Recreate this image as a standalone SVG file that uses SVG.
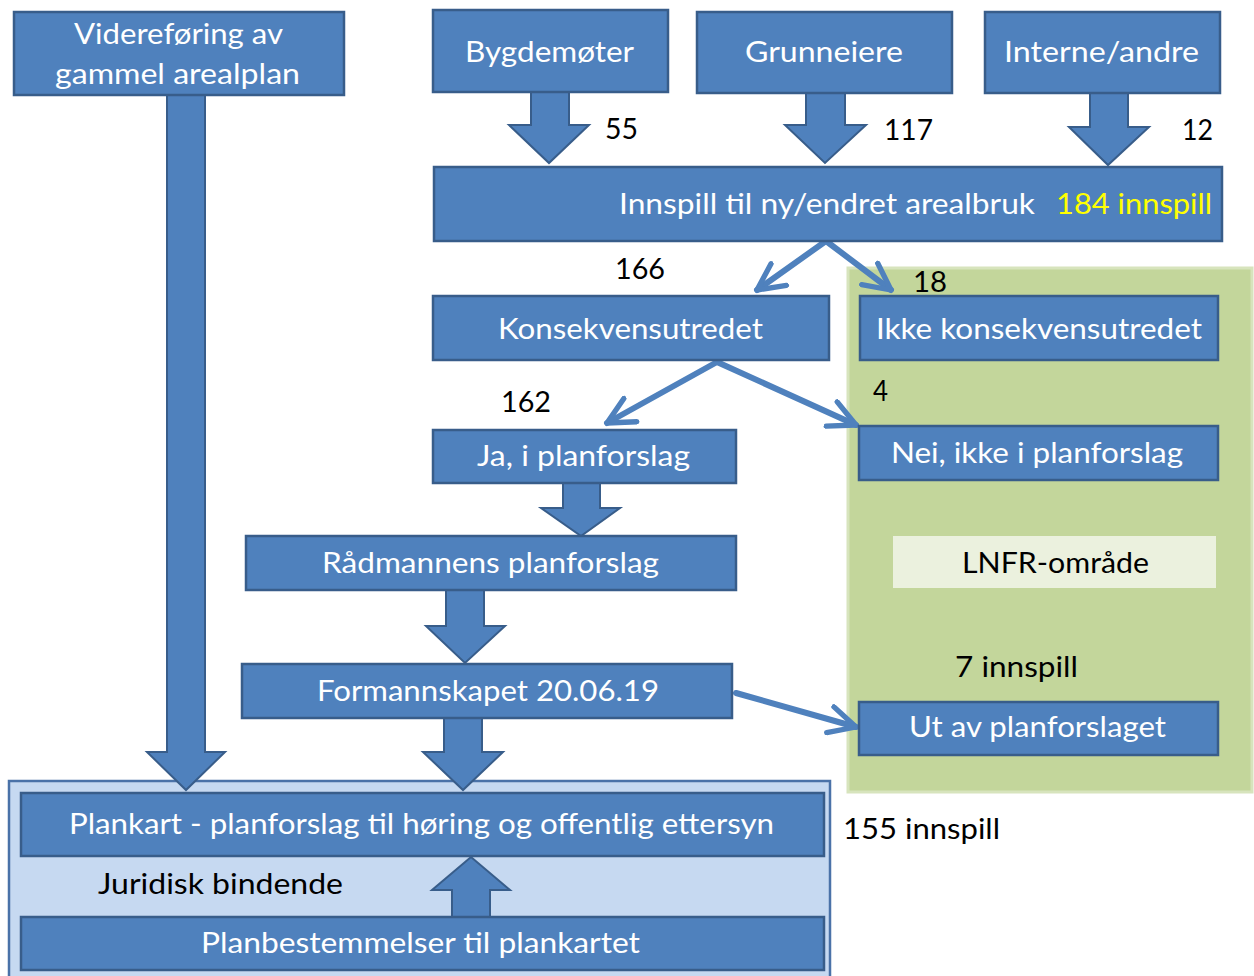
<svg xmlns="http://www.w3.org/2000/svg" width="1254" height="976" viewBox="0 0 1254 976">
<style>
.box{fill:#4F81BD;stroke:#385D8A;stroke-width:2.5}
.barrow{fill:#4F81BD;stroke:#385D8A;stroke-width:2}
.t{font-family:Lato,"Open Sans","Liberation Sans",sans-serif;font-size:28px;fill:#FFFFFF}
.k{font-family:Lato,"Open Sans","Liberation Sans",sans-serif;font-size:28px;fill:#000000}
.y{fill:#FFFF00}
.line{stroke:#4F81BD;stroke-width:6;fill:none;stroke-linecap:round}
</style>
<defs>
<marker id="vh" viewBox="0 0 12 12" refX="11" refY="6" markerWidth="32" markerHeight="32" markerUnits="userSpaceOnUse" orient="auto">
<path d="M1,1 L11,6 L1,11" fill="none" stroke="#4F81BD" stroke-width="2" stroke-linecap="round" stroke-linejoin="round"/>
</marker>
</defs>
<rect width="1254" height="976" fill="#FFFFFF"/>

<g id="lnfr-area"><rect x="848" y="268" width="404" height="524" fill="#C3D69B" stroke="#D7E4BD" stroke-width="3"/></g>
<g id="juridisk-area"><rect x="9" y="781" width="821" height="200" fill="#C6D9F1" stroke="#4A72A8" stroke-width="2.5"/></g>

<g id="connectors">
<path class="barrow" d="M167,95 H205 V752 H225 L186,790 L147,752 H167 Z"/>
<path class="barrow" d="M531,92 H569 V125 H589 L549,163 L509,125 H531 Z"/>
<path class="barrow" d="M806,93 H845 V125 H866 L825,163 L785,125 H806 Z"/>
<path class="barrow" d="M1090,93 H1128 V127 H1149 L1108,165 L1069,127 H1090 Z"/>
<path class="barrow" d="M563,483 H600 V508 H620 L581,536 L541,508 H563 Z"/>
<path class="barrow" d="M446,590 H484 V626 H505 L465,663 L426,626 H446 Z"/>
<path class="barrow" d="M444,718 H482 V752 H503 L463,790 L423,752 H444 Z"/>
<path class="barrow" d="M452,917 H490 V890 H510 L471,857 L432,890 H452 Z"/>
<line class="line" x1="826" y1="241" x2="757" y2="290" marker-end="url(#vh)"/>
<line class="line" x1="826" y1="241" x2="891" y2="290" marker-end="url(#vh)"/>
<line class="line" x1="717" y1="362" x2="607" y2="423" marker-end="url(#vh)"/>
<line class="line" x1="717" y1="362" x2="856" y2="425" marker-end="url(#vh)"/>
<line class="line" x1="736" y1="693" x2="856" y2="727" marker-end="url(#vh)"/>
</g>

<g id="videreforing"><rect class="box" x="14" y="12" width="330" height="83"/>
<text class="t" x="74" y="44" textLength="209" lengthAdjust="spacingAndGlyphs">Videreføring av</text>
<text class="t" x="55" y="84" textLength="245" lengthAdjust="spacingAndGlyphs">gammel arealplan</text></g>

<g id="bygdemoter"><rect class="box" x="433" y="10" width="235" height="82"/>
<text class="t" x="465" y="62" textLength="169" lengthAdjust="spacingAndGlyphs">Bygdemøter</text></g>

<g id="grunneiere"><rect class="box" x="697" y="12" width="255" height="81"/>
<text class="t" x="745" y="62" textLength="158" lengthAdjust="spacingAndGlyphs">Grunneiere</text></g>

<g id="interne"><rect class="box" x="985" y="12" width="235" height="81"/>
<text class="t" x="1004" y="62" textLength="195" lengthAdjust="spacingAndGlyphs">Interne/andre</text></g>

<g id="lbl-55"><text class="k" x="605" y="139" textLength="33" lengthAdjust="spacingAndGlyphs">55</text></g>
<g id="lbl-117"><text class="k" x="884" y="140" textLength="49" lengthAdjust="spacingAndGlyphs">117</text></g>
<g id="lbl-12"><text class="k" x="1182" y="140" textLength="31" lengthAdjust="spacingAndGlyphs">12</text></g>

<g id="innspill"><rect class="box" x="434" y="167" width="788" height="74"/>
<text class="t" x="619" y="214" textLength="416" lengthAdjust="spacingAndGlyphs">Innspill til ny/endret arealbruk</text>
<text class="t y" x="1056" y="214" textLength="156" lengthAdjust="spacingAndGlyphs">184 innspill</text></g>

<g id="lbl-166"><text class="k" x="615" y="279" textLength="50" lengthAdjust="spacingAndGlyphs">166</text></g>
<g id="lbl-18"><text class="k" x="913" y="292" textLength="34" lengthAdjust="spacingAndGlyphs">18</text></g>

<g id="konsekvens"><rect class="box" x="433" y="296" width="396" height="64"/>
<text class="t" x="498" y="339" textLength="265" lengthAdjust="spacingAndGlyphs">Konsekvensutredet</text></g>

<g id="ikke-konsekvens"><rect class="box" x="860" y="296" width="358" height="64"/>
<text class="t" x="876" y="339" textLength="326" lengthAdjust="spacingAndGlyphs">Ikke konsekvensutredet</text></g>

<g id="lbl-162"><text class="k" x="501" y="412" textLength="50" lengthAdjust="spacingAndGlyphs">162</text></g>
<g id="lbl-4"><text class="k" x="873" y="401" textLength="15" lengthAdjust="spacingAndGlyphs">4</text></g>

<g id="ja"><rect class="box" x="433" y="430" width="303" height="53"/>
<text class="t" x="477" y="466" textLength="213" lengthAdjust="spacingAndGlyphs">Ja, i planforslag</text></g>

<g id="nei"><rect class="box" x="859" y="426" width="359" height="54"/>
<text class="t" x="891" y="463" textLength="292" lengthAdjust="spacingAndGlyphs">Nei, ikke i planforslag</text></g>

<g id="radmann"><rect class="box" x="246" y="536" width="490" height="54"/>
<text class="t" x="322" y="573" textLength="337" lengthAdjust="spacingAndGlyphs">Rådmannens planforslag</text></g>

<g id="lnfr"><rect x="893" y="536" width="323" height="52" fill="#EBF1DE"/>
<text class="k" x="962" y="573" textLength="187" lengthAdjust="spacingAndGlyphs">LNFR-område</text></g>

<g id="lbl-7"><text class="k" x="955" y="677" textLength="123" lengthAdjust="spacingAndGlyphs">7 innspill</text></g>

<g id="formannskapet"><rect class="box" x="242" y="664" width="490" height="54"/>
<text class="t" x="317" y="701" textLength="342" lengthAdjust="spacingAndGlyphs">Formannskapet 20.06.19</text></g>

<g id="ut"><rect class="box" x="859" y="702" width="359" height="53"/>
<text class="t" x="909" y="737" textLength="257" lengthAdjust="spacingAndGlyphs">Ut av planforslaget</text></g>

<g id="plankart"><rect class="box" x="21" y="793" width="803" height="63"/>
<text class="t" x="69" y="834" textLength="705" lengthAdjust="spacingAndGlyphs">Plankart - planforslag til høring og offentlig ettersyn</text></g>

<g id="lbl-155"><text class="k" x="843" y="839" textLength="157" lengthAdjust="spacingAndGlyphs">155 innspill</text></g>

<g id="lbl-juridisk"><text class="k" x="98" y="894" textLength="245" lengthAdjust="spacingAndGlyphs">Juridisk bindende</text></g>

<g id="planbestemmelser"><rect class="box" x="21" y="917" width="803" height="53"/>
<text class="t" x="201" y="953" textLength="439" lengthAdjust="spacingAndGlyphs">Planbestemmelser til plankartet</text></g>
</svg>
